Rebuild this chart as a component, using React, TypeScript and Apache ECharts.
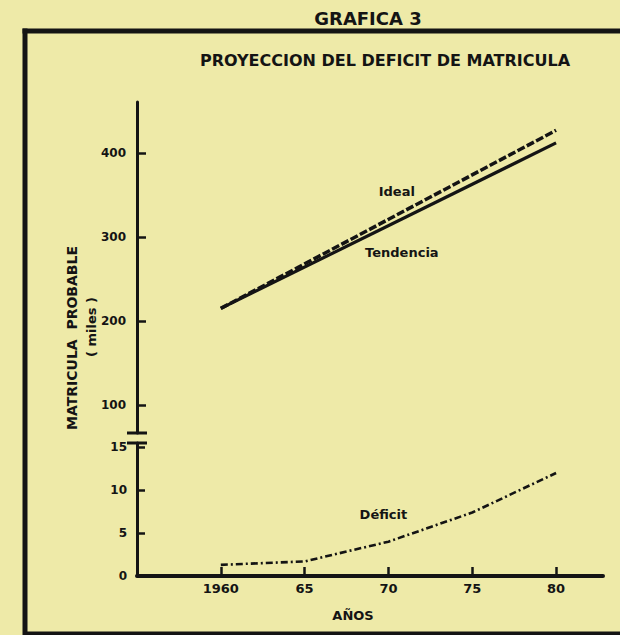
import React, { useEffect, useRef } from 'react';
import * as echarts from 'echarts';

// ---- data ----
const deficitYears = [1960, 1965, 1970, 1975, 1980];
const deficitValues = [1.3, 1.7, 4.0, 7.4, 12.0];
const idealYears = [1960, 1980];
const idealValues = [215, 427];
const tendenciaYears = [1960, 1980];
const tendenciaValues = [215, 412];
const upperTicks = [100, 200, 300, 400];
const lowerTicks = [0, 5, 10, 15];
const xTicks = [1960, 1965, 1970, 1975, 1980];
const xTickLabels = ['1960', '65', '70', '75', '80'];

const BG = '#eeeaa8';
const INK = '#141414';
const FONT = 'DejaVu Sans';

const tickLabel = (size: number, margin: number) => ({
  color: INK,
  fontFamily: FONT,
  fontWeight: 'bold' as const,
  fontSize: size,
  margin,
});

const lineLabel = (text: string, coord: number[]) => ({
  symbol: 'circle',
  symbolSize: 1,
  itemStyle: { color: 'transparent' },
  label: {
    show: true,
    position: 'inside',
    formatter: text,
    color: INK,
    fontFamily: FONT,
    fontWeight: 'bold',
    fontSize: 13,
  },
  data: [{ coord }],
});

const frameLine = (x1: number, y1: number, x2: number, y2: number) => ({
  type: 'line',
  silent: true,
  shape: { x1, y1, x2, y2 },
  style: { stroke: INK, lineWidth: 5 },
});

function buildOption() {
  return {
    animation: false,
    backgroundColor: BG,
    grid: [
      { left: 137, width: 466, top: 102, height: 331 },
      { left: 137, width: 466, top: 443, height: 133 },
    ],
    xAxis: [
      { gridIndex: 0, type: 'value', min: 1955, max: 1982.8, show: false },
      {
        gridIndex: 1,
        type: 'value',
        min: 1955,
        max: 1982.8,
        axisLine: { show: true, onZero: false, lineStyle: { color: INK, width: 4 } },
        axisTick: {
          show: true,
          inside: true,
          length: 9,
          customValues: xTicks,
          lineStyle: { color: INK, width: 2.5 },
        },
        axisLabel: {
          ...tickLabel(13, 6),
          customValues: xTicks,
          formatter: (v: number) => xTickLabels[xTicks.indexOf(v)] ?? '',
        },
        splitLine: { show: false },
      },
    ],
    yAxis: [
      {
        gridIndex: 0,
        type: 'value',
        min: 66.7,
        max: 460.7,
        axisLine: { show: true, onZero: false, lineStyle: { color: INK, width: 3 } },
        axisTick: {
          show: true,
          inside: true,
          length: 9,
          customValues: upperTicks,
          lineStyle: { color: INK, width: 2.5 },
        },
        axisLabel: { ...tickLabel(12, 11), customValues: upperTicks },
        splitLine: { show: false },
      },
      {
        gridIndex: 1,
        type: 'value',
        min: 0,
        max: 15.5,
        axisLine: { show: true, onZero: false, lineStyle: { color: INK, width: 3 } },
        axisTick: {
          show: true,
          inside: true,
          length: 8,
          customValues: lowerTicks,
          lineStyle: { color: INK, width: 2.5 },
        },
        axisLabel: { ...tickLabel(12, 10), customValues: lowerTicks },
        splitLine: { show: false },
      },
    ],
    series: [
      {
        name: 'Ideal',
        type: 'line',
        xAxisIndex: 0,
        yAxisIndex: 0,
        symbol: 'none',
        data: idealYears.map((y, i) => [y, idealValues[i]]),
        lineStyle: { color: INK, width: 3.5, type: [8, 2.5] },
        markPoint: lineLabel('Ideal', [1970.5, 354]),
      },
      {
        name: 'Tendencia',
        type: 'line',
        xAxisIndex: 0,
        yAxisIndex: 0,
        symbol: 'none',
        data: tendenciaYears.map((y, i) => [y, tendenciaValues[i]]),
        lineStyle: { color: INK, width: 3.2 },
        markPoint: lineLabel('Tendencia', [1970.8, 282]),
      },
      {
        name: 'Déficit',
        type: 'line',
        xAxisIndex: 1,
        yAxisIndex: 1,
        symbol: 'none',
        data: deficitYears.map((y, i) => [y, deficitValues[i]]),
        lineStyle: { color: INK, width: 2.6, type: [7, 3, 2, 3] },
        markPoint: lineLabel('Déficit', [1969.7, 7.2]),
      },
    ],
    graphic: [
      frameLine(22.5, 31, 620, 31),
      frameLine(25, 28.5, 25, 635),
      frameLine(25, 634, 620, 634),
      {
        type: 'text',
        x: 368,
        y: 18,
        style: {
          text: 'GRAFICA 3',
          font: `bold 18px "${FONT}"`,
          fill: INK,
          align: 'center',
          verticalAlign: 'middle',
        },
      },
      {
        type: 'text',
        x: 385,
        y: 60,
        style: {
          text: 'PROYECCION DEL DEFICIT DE MATRICULA',
          font: `bold 16px "${FONT}"`,
          fill: INK,
          align: 'center',
          verticalAlign: 'middle',
        },
      },
      {
        type: 'text',
        x: 72,
        y: 338,
        rotation: Math.PI / 2,
        style: {
          text: 'MATRICULA  PROBABLE',
          font: `bold 14px "${FONT}"`,
          fill: INK,
          align: 'center',
          verticalAlign: 'middle',
        },
      },
      {
        type: 'text',
        x: 91,
        y: 327,
        rotation: Math.PI / 2,
        style: {
          text: '( miles )',
          font: `bold 13px "${FONT}"`,
          fill: INK,
          align: 'center',
          verticalAlign: 'middle',
        },
      },
      {
        type: 'text',
        x: 353,
        y: 615,
        style: {
          text: 'AÑOS',
          font: `bold 13px "${FONT}"`,
          fill: INK,
          align: 'center',
          verticalAlign: 'middle',
        },
      },
      // axis break marks
      { type: 'line', silent: true, shape: { x1: 127, y1: 433, x2: 147, y2: 433 }, style: { stroke: INK, lineWidth: 3 } },
      { type: 'line', silent: true, shape: { x1: 127, y1: 443, x2: 147, y2: 443 }, style: { stroke: INK, lineWidth: 3 } },
      // small gaps in the printed axes
      { type: 'rect', silent: true, shape: { x: 133, y: 328, width: 9, height: 19 }, style: { fill: BG } },
      { type: 'rect', silent: true, shape: { x: 535, y: 571, width: 4, height: 10 }, style: { fill: BG } },
    ],
  };
}

export default function App() {
  const ref = useRef<HTMLDivElement>(null);
  useEffect(() => {
    if (!ref.current) return;
    const chart = echarts.init(ref.current, null, { renderer: 'svg' });
    chart.setOption(buildOption() as any);
    return () => chart.dispose();
  }, []);
  return (
    <div
      ref={ref}
      style={{ position: 'fixed', left: 0, top: 0, width: 620, height: 635, background: BG, overflow: 'hidden' }}
    />
  );
}
